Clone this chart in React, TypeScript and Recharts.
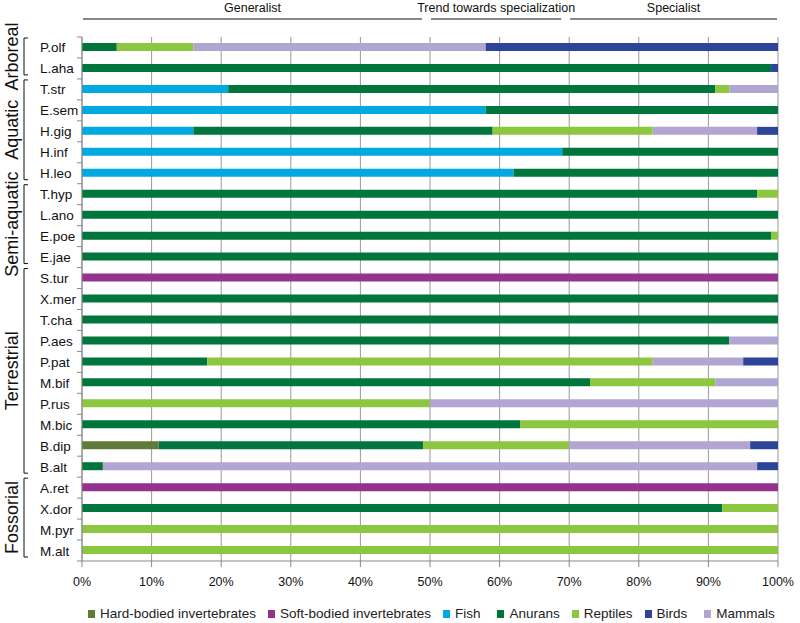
import React from "react";
import {
  BarChart,
  Bar,
  XAxis,
  YAxis,
  CartesianGrid,
} from "recharts";

const species = [
  "P.olf", "L.aha", "T.str", "E.sem", "H.gig", "H.inf", "H.leo", "T.hyp",
  "L.ano", "E.poe", "E.jae", "S.tur", "X.mer", "T.cha", "P.aes", "P.pat",
  "M.bif", "P.rus", "M.bic", "B.dip", "B.alt", "A.ret", "X.dor", "M.pyr", "M.alt",
];

const hardBodied = [0, 0, 0, 0, 0, 0, 0, 0, 0, 0, 0, 0, 0, 0, 0, 0, 0, 0, 0, 11, 0, 0, 0, 0, 0];
const softBodied = [0, 0, 0, 0, 0, 0, 0, 0, 0, 0, 0, 100, 0, 0, 0, 0, 0, 0, 0, 0, 0, 100, 0, 0, 0];
const fish = [0, 0, 21, 58, 16, 69, 62, 0, 0, 0, 0, 0, 0, 0, 0, 0, 0, 0, 0, 0, 0, 0, 0, 0, 0];
const anurans = [5, 99, 70, 42, 43, 31, 38, 97, 100, 99, 100, 0, 100, 100, 93, 18, 73, 0, 63, 38, 3, 0, 92, 0, 0];
const reptiles = [11, 0, 2, 0, 23, 0, 0, 3, 0, 1, 0, 0, 0, 0, 0, 64, 18, 50, 37, 21, 0, 0, 8, 100, 100];
const mammals = [42, 0, 7, 0, 15, 0, 0, 0, 0, 0, 0, 0, 0, 0, 7, 13, 9, 50, 0, 26, 94, 0, 0, 0, 0];
const birds = [42, 1, 0, 0, 3, 0, 0, 0, 0, 0, 0, 0, 0, 0, 0, 5, 0, 0, 0, 4, 3, 0, 0, 0, 0];

const xTicks = [0, 10, 20, 30, 40, 50, 60, 70, 80, 90, 100];

// habitat groups: label, first row, last row
const groups: [string, number, number][] = [
  ["Arboreal", 0, 1],
  ["Aquatic", 2, 6],
  ["Semi-aquatic", 7, 10],
  ["Terrestrial", 11, 20],
  ["Fossorial", 21, 24],
];

// diet breadth headers: label, from %, to %
const headers: [string, number, number][] = [
  ["Generalist", 0, 49],
  ["Trend towards specialization", 50, 69],
  ["Specialist", 70, 100],
];

const series = [
  { key: "hard", name: "Hard-bodied invertebrates", color: "#5E7B3A", values: hardBodied },
  { key: "soft", name: "Soft-bodied invertebrates", color: "#93328F", values: softBodied },
  { key: "fish", name: "Fish", color: "#00A9E0", values: fish },
  { key: "anurans", name: "Anurans", color: "#00763D", values: anurans },
  { key: "reptiles", name: "Reptiles", color: "#8DC63F", values: reptiles },
  { key: "birds", name: "Birds", color: "#2E4499", values: birds },
  { key: "mammals", name: "Mammals", color: "#B1A5D2", values: mammals },
];

// stacking order differs from legend order: mammals sit before birds
const stackOrder = ["hard", "soft", "fish", "anurans", "reptiles", "mammals", "birds"];

const data = species.map((name, i) => {
  const row: any = { name };
  series.forEach((s) => (row[s.key] = s.values[i]));
  return row;
});

const W = 800;
const H = 623;
const X_AXIS_H = 30;
const M = { top: 37, right: 22, bottom: 62 - X_AXIS_H, left: 0 };
const AXIS_W = 82;
const plotL = M.left + AXIS_W;
const plotR = W - M.right;
const plotT = M.top;
const plotB = H - M.bottom - X_AXIS_H;
const band = (plotB - plotT) / species.length;
const font = "'Liberation Sans', Arial, sans-serif";

const pctX = (p: number) => plotL + ((plotR - plotL) * p) / 100;

const SpeciesTick = (props: any) => {
  const { y, payload, index } = props;
  return (
    <g>
      <line x1={plotL - 5} x2={plotL} y1={y - band / 2} y2={y - band / 2} stroke="#888" />
      {index === species.length - 1 && (
        <line x1={plotL - 5} x2={plotL} y1={y + band / 2} y2={y + band / 2} stroke="#888" />
      )}
      <text x={40} y={y} dy={5} fontSize={13.5} fill="#111" fontFamily={font}>
        {payload.value}
      </text>
    </g>
  );
};

const PctTick = (props: any) => {
  const { x, payload } = props;
  return (
    <text x={x} y={plotB + 25} textAnchor="middle" fontSize={12.5} fill="#111" fontFamily={font}>
      {`${payload.value}%`}
    </text>
  );
};

const LegendBox = () => (
  <div
    style={{
      position: "absolute",
      left: 88,
      top: 606,
      display: "flex",
      fontFamily: font,
      fontSize: 13.5,
      color: "#222",
      whiteSpace: "nowrap",
    }}
  >
    {series.map((s) => (
      <span
        key={s.key}
        style={{
          display: "flex",
          alignItems: "center",
          marginRight: s.key === "fish" || s.key === "birds" ? 17 : 12,
        }}
      >
        <span style={{ width: 7, height: 8, background: s.color, marginRight: 5, display: "inline-block" }} />
        {s.name}
      </span>
    ))}
  </div>
);

export default function App() {
  return (
    <div style={{ position: "absolute", left: 0, top: 0, width: W, height: H, background: "#fff" }}>
      <BarChart width={W} height={H} data={data} layout="vertical" margin={M} barSize={8}>
        <CartesianGrid horizontal={false} stroke="#999" ticks={xTicks} />
        <XAxis
          type="number"
          domain={[0, 100]}
          ticks={xTicks}
          height={X_AXIS_H}
          stroke="#888"
          tickSize={6}
          tick={<PctTick />}
          interval={0}
        />
        <YAxis
          type="category"
          dataKey="name"
          width={AXIS_W}
          stroke="#888"
          tickLine={false}
          tick={<SpeciesTick />}
          interval={0}
        />
        {stackOrder.map((k) => {
          const s = series.find((x) => x.key === k)!;
          return (
            <Bar key={k} dataKey={k} name={s.name} stackId="a" fill={s.color} isAnimationActive={false} />
          );
        })}
      </BarChart>
      <svg width={W} height={H} style={{ position: "absolute", left: 0, top: 0, pointerEvents: "none" }}>
        {headers.map(([label, a, b]) => (
          <g key={label}>
            <text
              x={(pctX(a) + pctX(b)) / 2}
              y={12}
              textAnchor="middle"
              fontSize={12.5}
              fill="#111"
              fontFamily={font}
            >
              {label}
            </text>
            <line x1={pctX(a) + 1} x2={pctX(b) - 1} y1={19} y2={19} stroke="#111" />
          </g>
        ))}
        {groups.map(([label, a, b]) => {
          const y1 = plotT + a * band + 1;
          const y2 = plotT + (b + 1) * band - 4;
          const cy = (y1 + y2) / 2;
          return (
            <g key={label}>
              <path d={`M28,${y1} H24 V${y2} H28`} fill="none" stroke="#111" />
              <text
                x={0}
                y={0}
                transform={`translate(18,${cy}) rotate(-90)`}
                textAnchor="middle"
                fontSize={18}
                fill="#111"
                fontFamily={font}
              >
                {label}
              </text>
            </g>
          );
        })}
      </svg>
      <LegendBox />
    </div>
  );
}
